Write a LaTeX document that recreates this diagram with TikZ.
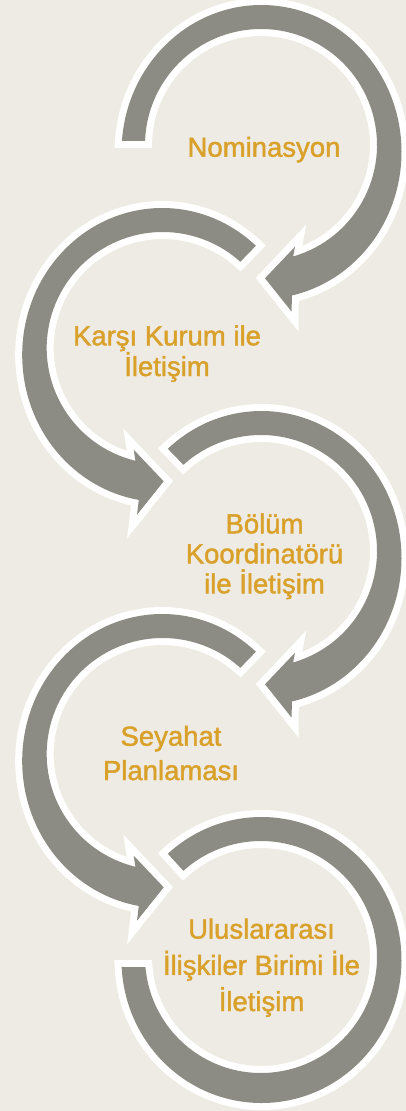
\documentclass[tikz,border=0pt]{standalone}
\usepackage{fontspec}
\setmainfont{Liberation Sans}
\newfontfamily\lblfont[FakeBold=1.6]{Liberation Sans}
\usetikzlibrary{calc}
\definecolor{bg}{HTML}{EEEBE4}
\definecolor{band}{HTML}{8C8C85}
\definecolor{gold}{HTML}{D9A12A}
\begin{document}
\begin{tikzpicture}[x=1pt,y=1pt,
  bandshape/.style={fill=band, preaction={draw=white, line width=14, line join=miter}},
  lbl/.style={text=gold, align=center, inner sep=0pt, anchor=base}]
\fill[bg] (0,0) rectangle (406,-1111);
\useasboundingbox (0,0) rectangle (406,-1111);

\coordinate (c1) at (261,-145);
\coordinate (c2) at (162.7,-348);
\coordinate (c3) at (261,-551);
\coordinate (c4) at (162.7,-754);
\coordinate (c5) at (261,-957);

% circle 1 (clockwise, tail at west, arrow at bottom)
\path[bandshape] ($(c1)+(0.5,-7)+(175.7:140 and 147)$)
  arc[start angle=175.7, end angle=-77.5, x radius=140, y radius=147]
  -- ($(c1)+(30.7,-166.7)$) -- ($(c1)+(4,-133.3)$) -- ($(c1)+(34,-101.7)$)
  -- ($(c1)+(-73.9:116)$)
  arc[start angle=-73.9, end angle=178, radius=116] -- cycle;

% circle 2 (counter-clockwise)
\path[bandshape] ($(c2)+(-0.5,-7)+(48:140 and 147)$)
  arc[start angle=48, end angle=260.37, x radius=140, y radius=147]
  -- ($(c2)+(-25.7,-166.7)$) -- ($(c2)+(1,-133.3)$) -- ($(c2)+(-29,-101.7)$)
  -- ($(c2)+(256.4:116)$)
  arc[start angle=256.4, end angle=48, radius=116] -- cycle;

% circle 3 (clockwise)
\path[bandshape] ($(c3)+(0.5,-7)+(132:140 and 147)$)
  arc[start angle=132, end angle=-77.5, x radius=140, y radius=147]
  -- ($(c3)+(30.7,-166.7)$) -- ($(c3)+(4,-133.3)$) -- ($(c3)+(34,-101.7)$)
  -- ($(c3)+(-73.9:116)$)
  arc[start angle=-73.9, end angle=132, radius=116] -- cycle;

% circle 4 (counter-clockwise)
\path[bandshape] ($(c4)+(-0.5,-7)+(48:140 and 147)$)
  arc[start angle=48, end angle=260.37, x radius=140, y radius=147]
  -- ($(c4)+(-25.7,-166.7)$) -- ($(c4)+(1,-133.3)$) -- ($(c4)+(-29,-101.7)$)
  -- ($(c4)+(256.4:116)$)
  arc[start angle=256.4, end angle=48, radius=116] -- cycle;

% circle 5 (clockwise, flat end at west)
\path[bandshape] ($(c5)+(0.5,-3)+(132:140 and 143)$)
  arc[start angle=132, end angle=-177.2, x radius=140, y radius=143]
  -- ($(c5)+(-175.05:116)$)
  arc[start angle=-175.05, end angle=132, radius=116] -- cycle;

\node[lbl, font=\lblfont\fontsize{27.5}{29.5}\selectfont] (t1) at (264,-156.7) {Nominasyon};
\node[lbl, font=\lblfont\fontsize{27.5}{29.3}\selectfont] (t2) at (167,-376) {Karşı Kurum ile\\İletişim};
\node[lbl, font=\lblfont\fontsize{27.5}{30}\selectfont] (t3) at (264.5,-593.3) {Bölüm\\Koordinatörü\\ile İletişim};
\node[lbl, font=\lblfont\fontsize{27.5}{34.3}\selectfont] (t4) at (171,-780) {Seyahat\\Planlaması};
\node[lbl, font=\lblfont\fontsize{27.5}{36.2}\selectfont] (t5) at (261.5,-1011) {Uluslararası\\İlişkiler Birimi İle\\İletişim};
\end{tikzpicture}
\end{document}
